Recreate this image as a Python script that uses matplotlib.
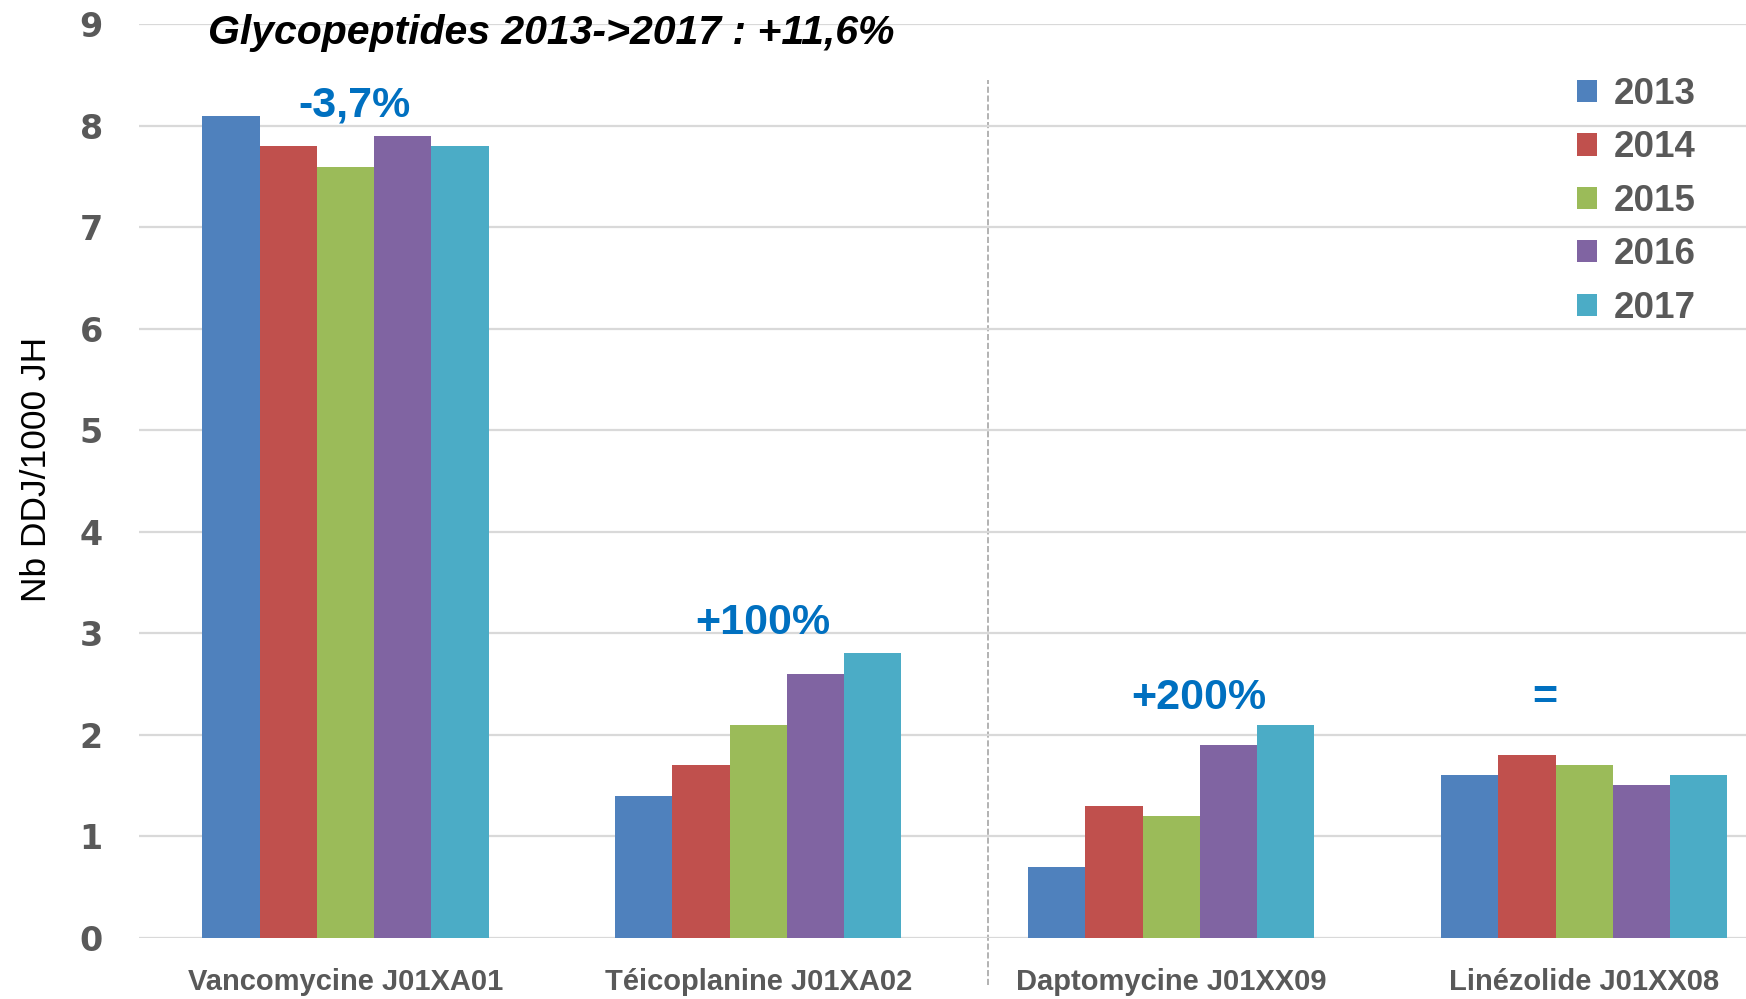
import numpy as np
import matplotlib.pyplot as plt

molecules = ['Vancomycine J01XA01', 'Téicoplanine J01XA02',
             'Daptomycine J01XX09', 'Linézolide J01XX08']
years = ['2013', '2014', '2015', '2016', '2017']
values = {
    '2013': [8.1, 1.4, 0.7, 1.6],
    '2014': [7.8, 1.7, 1.3, 1.8],
    '2015': [7.6, 2.1, 1.2, 1.7],
    '2016': [7.9, 2.6, 1.9, 1.5],
    '2017': [7.8, 2.8, 2.1, 1.6],
}
evolutions = ['-3,7%', '+100%', '+200%', '=']
colors = ['#4F81BD', '#C0504D', '#9BBB59', '#8064A2', '#4BACC6']

lib = ['Liberation Sans', 'DejaVu Sans']
grey = '#595959'

fig = plt.figure(figsize=(17.46, 9.99), dpi=100)
ax = fig.add_axes([0.0796, 0.0615, 0.9204, 0.914])

x = np.arange(len(molecules))
w = 0.1386
for i, y in enumerate(years):
    ax.bar(x + (i - 2) * w, values[y], w, color=colors[i], label=y, zorder=3)

ax.set_xlim(-0.5, 3.392)
ax.set_ylim(0, 9)
ax.set_yticks(range(10))
ax.grid(axis='y', color='#D9D9D9', linewidth=1.6, zorder=0)
for s in ax.spines.values():
    s.set_visible(False)
ax.tick_params(length=0)
ax.tick_params(axis='y', pad=26, labelsize=24, labelcolor=grey)
for t in ax.get_yticklabels():
    t.set_fontweight('bold')
ax.set_xticks(x)
ax.set_xticklabels(molecules, fontsize=21, fontweight='bold', color=grey, family=lib)
ax.tick_params(axis='x', pad=22)

# separator between glycopeptides and the others
ax.axvline(1.557, ymin=-0.052, ymax=0.939, color='#A6A6A6', linestyle='--',
           linewidth=1.2, clip_on=False, zorder=1)

ax.text(-0.333, 8.92, 'Glycopeptides 2013->2017 : +11,6%', ha='left', va='center',
        fontsize=29.5, fontweight='bold', fontstyle='italic', family=lib)

ann_x = [0.023, 1.012, 2.066, 2.904]
ann_y = [8.2, 3.1, 2.36, 2.36]
for ex, ey, txt in zip(ann_x, ann_y, evolutions):
    ax.text(ex, ey, txt, ha='center', va='center', fontsize=31,
            fontweight='bold', color='#0070C0', family=lib)

fig.text(0.021, 0.53, 'Nb DDJ/1000 JH', rotation=90, ha='center', va='center',
         fontsize=25.5, family=lib)

leg = ax.legend(loc='upper right', bbox_to_anchor=(0.99, 0.956), bbox_transform=fig.transFigure,
                frameon=False, prop={'family': lib, 'size': 26.5, 'weight': 'bold'},
                handlelength=0.55, handleheight=0.55,
                handletextpad=0.45, labelspacing=0.5)
for t in leg.get_texts():
    t.set_color(grey)

plt.savefig('out.png')
